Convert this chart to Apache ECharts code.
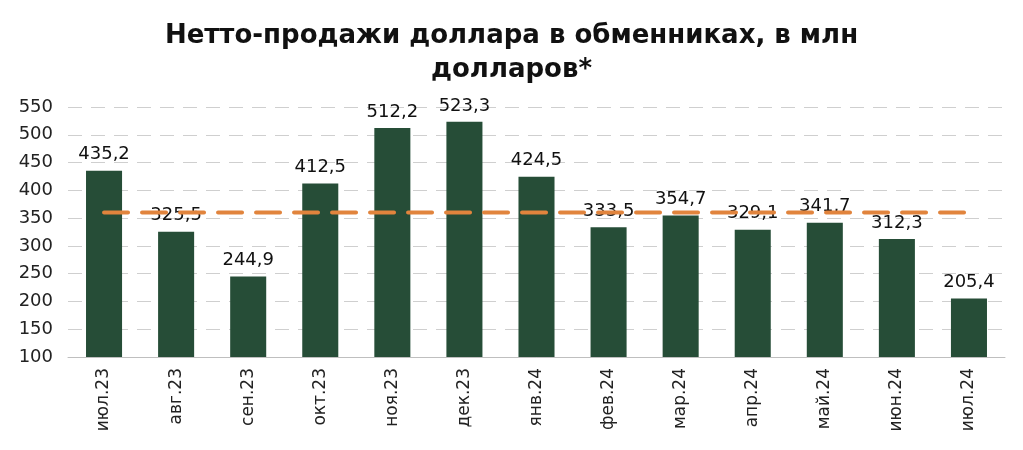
<!DOCTYPE html>
<html><head><meta charset="utf-8">
<script src="https://cdn.jsdelivr.net/npm/echarts@6/dist/echarts.min.js"></script>
<style>html,body{margin:0;padding:0;background:#fff}#c{width:1023px;height:450px}</style>
</head><body><div id="c"></div>
<script>
const categories = ['июл.23','авг.23','сен.23','окт.23','ноя.23','дек.23','янв.24','фев.24','мар.24','апр.24','май.24','июн.24','июл.24'];
const values = [435.2,325.5,244.9,412.5,512.2,523.3,424.5,333.5,354.7,329.1,341.7,312.3,205.4];
const average = [360,360,360,360,360,360,360,360,360,360,360,360,360];
const chart = echarts.init(document.getElementById('c'));
chart.setOption({
  animation:false,
  title:{text:'Нетто-продажи доллара в обменниках, в млн\nдолларов*',left:'center',top:14,
    textStyle:{fontFamily:'DejaVu Sans',fontWeight:'bold',fontSize:26,color:'#111',lineHeight:34}},
  grid:{left:68,right:18,top:107,bottom:93},
  xAxis:{type:'category',data:categories,
    axisLine:{lineStyle:{color:'#bfbfbf',width:1}},axisTick:{show:false},
    axisLabel:{rotate:90,fontFamily:'DejaVu Sans',fontSize:17,color:'#222',margin:11}},
  yAxis:{type:'value',min:100,max:550,interval:50,
    axisLine:{show:false},axisTick:{show:false},
    splitLine:{lineStyle:{color:'#cfcfcf',type:[14,9],width:1}},
    axisLabel:{fontFamily:'DejaVu Sans',fontSize:18,color:'#222',margin:15}},
  series:[
    {type:'bar',data:values,barWidth:'50%',itemStyle:{color:'#264d37'},
     label:{show:true,position:'top',distance:7,fontFamily:'DejaVu Sans',fontSize:18,color:'#111',
       formatter:p=>String(p.value).replace('.',',')}},
    {type:'line',data:average,symbol:'none',z:5,
     lineStyle:{color:'#e1843d',width:4,type:[24,14],cap:'round'}}
  ]
});
</script></body></html>
